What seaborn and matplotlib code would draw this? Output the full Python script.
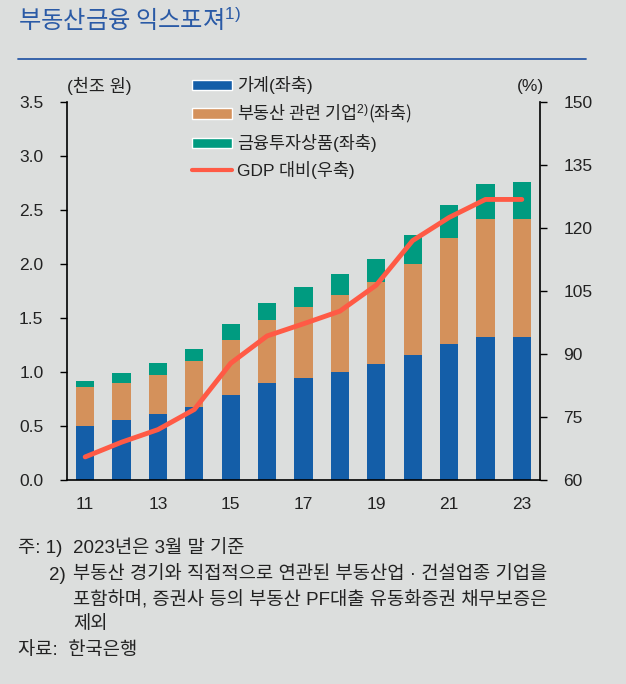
import matplotlib
matplotlib.use("Agg")
import matplotlib.pyplot as plt
import seaborn as sns
import numpy as np
import pandas as pd
from matplotlib.lines import Line2D
from matplotlib.patches import Patch

sns.set_theme(style="white")
FONT = ['Liberation Sans', 'Noto Sans CJK KR', 'DejaVu Sans']
plt.rcParams['font.family'] = FONT
plt.rcParams['mathtext.fontset'] = 'custom'
plt.rcParams['mathtext.rm'] = 'Liberation Sans'
plt.rcParams['mathtext.it'] = 'Liberation Sans'
plt.rcParams['mathtext.bf'] = 'Liberation Sans:bold'

years = ['11', '12', '13', '14', '15', '16', '17', '18', '19', '20', '21', '22', '23']
household = [0.50, 0.56, 0.61, 0.68, 0.79, 0.90, 0.94, 1.00, 1.07, 1.16, 1.26, 1.32, 1.32]
re_corp = [0.36, 0.34, 0.36, 0.42, 0.51, 0.58, 0.66, 0.71, 0.76, 0.84, 0.98, 1.10, 1.10]
fin_inv = [0.06, 0.09, 0.11, 0.11, 0.14, 0.16, 0.19, 0.20, 0.22, 0.27, 0.31, 0.32, 0.34]
gdp_ratio = [65.5, 69.0, 72.0, 76.8, 87.8, 94.3, 97.2, 100.2, 106.4, 117.0, 122.5, 126.8, 126.8]

labels = ['가계(좌축)', '부동산 관련 기업$^{2)}$(좌축)', '금융투자상품(좌축)', 'GDP 대비(우축)']
c_blue = '#145ea8'
c_orange = '#d4915b'
c_green = '#009b80'
c_red = '#ff5a45'
bg = '#dcdedd'
txt = '#222222'
KR = 'Noto Sans CJK KR'

df = pd.DataFrame({'year': years, 'household': household, 're_corp': re_corp, 'fin_inv': fin_inv})
df['s2'] = df['household'] + df['re_corp']
df['s3'] = df['s2'] + df['fin_inv']

fig = plt.figure(figsize=(6.26, 6.84), dpi=100, facecolor=bg)
W, H = 626, 684
ax = fig.add_axes([67 / W, 1 - 480 / H, (540 - 67) / W, (480 - 102) / H])
ax.set_facecolor(bg)

order = years
sns.barplot(data=df, x='year', y='s3', order=order, color=c_green, width=0.5, ax=ax,
            saturation=1, linewidth=0)
sns.barplot(data=df, x='year', y='s2', order=order, color=c_orange, width=0.5, ax=ax,
            saturation=1, linewidth=0)
sns.barplot(data=df, x='year', y='household', order=order, color=c_blue, width=0.5, ax=ax,
            saturation=1, linewidth=0)

ax.set_ylim(0, 3.5)
ax.set_xlim(-0.5, 12.5)
ax.set_yticks(np.arange(0, 3.51, 0.5))
ax.set_yticklabels([f'{v:.1f}' for v in np.arange(0, 3.51, 0.5)])
ax.set_xticks(range(0, 13, 2))
ax.set_xticklabels([years[i] for i in range(0, 13, 2)])
ax.set_xticks(np.arange(0.5, 12, 1), minor=True)
ax.tick_params(axis='x', which='major', length=0, pad=12, labelsize=12.5, colors=txt)
ax.tick_params(axis='x', which='minor', length=4, direction='in', width=1, color='black')
ax.tick_params(axis='y', which='major', length=5, direction='out', width=1, color='black',
               pad=12, labelsize=12.5, labelcolor=txt, left=True)
ax.set_xlabel('')
ax.set_ylabel('')
for s in ['left', 'bottom']:
    ax.spines[s].set_color('black')
    ax.spines[s].set_linewidth(1.2)
ax.spines['top'].set_visible(False)
ax.spines['right'].set_visible(False)

ax2 = ax.twinx()
sns.lineplot(x=np.arange(len(years)), y=gdp_ratio, color=c_red, linewidth=3.5, ax=ax2,
             solid_joinstyle='round', solid_capstyle='round')
ax2.set_ylim(60, 150)
ax2.set_yticks(range(60, 151, 15))
ax2.tick_params(axis='y', which='major', length=5, direction='out', width=1, color='black',
                pad=12, labelsize=12.5, labelcolor=txt, right=True)
for s in ['top', 'left', 'bottom']:
    ax2.spines[s].set_visible(False)
ax2.spines['right'].set_color('black')
ax2.spines['right'].set_linewidth(1.2)
ax2.set_xlim(-0.5, 12.5)

handles = [Patch(facecolor=c_blue), Patch(facecolor=c_orange), Patch(facecolor=c_green),
           Line2D([], [], color=c_red, linewidth=3)]
leg = fig.legend(handles, labels, loc='upper left', bbox_to_anchor=(192 / W, 1 - 76 / H),
                 frameon=False, fontsize=12.5, handlelength=2.3, handleheight=0.55,
                 labelspacing=0.5, handletextpad=0.3, borderaxespad=0, borderpad=0)
for t in leg.get_texts():
    t.set_color(txt)
leg.get_texts()[1].set_fontfamily(KR)

# units
fig.text(67 / W, 1 - 86 / H, '(천조 원)', fontsize=12.5, color=txt, ha='left', va='center')
fig.text(530 / W, 1 - 86 / H, '(%)', fontsize=12.5, color=txt, ha='center', va='center')

# title
fig.text(18 / W, 1 - 21 / H, '부동산금융 익스포져$^{1)}$', fontsize=17.5, color='#2a5aa6',
         ha='left', va='center', family=KR, fontweight='medium')
fig.add_artist(Line2D([18 / W, 586 / W], [1 - 59 / H, 1 - 59 / H], color='#2a5aa6', linewidth=1.3))

# footnotes
fs = 13.5
fig.text(18 / W, 1 - 548 / H, '주: 1)', fontsize=fs, color=txt, ha='left', va='center')
fig.text(73 / W, 1 - 548 / H, '2023년은 3월 말 기준', fontsize=fs, color=txt, ha='left', va='center')
fig.text(49 / W, 1 - 575 / H, '2)', fontsize=fs, color=txt, ha='left', va='center')
fig.text(73 / W, 1 - 575 / H, '부동산 경기와 직접적으로 연관된 부동산업 · 건설업종 기업을',
         fontsize=fs, color=txt, ha='left', va='center')
fig.text(73 / W, 1 - 600 / H, '포함하며, 증권사 등의 부동산 PF대출 유동화증권 채무보증은',
         fontsize=fs, color=txt, ha='left', va='center')
fig.text(73 / W, 1 - 624 / H, '제외', fontsize=fs, color=txt, ha='left', va='center')
fig.text(18 / W, 1 - 651 / H, '자료:  한국은행', fontsize=fs, color=txt, ha='left', va='center')

fig.savefig('out.png', dpi=100, facecolor=bg)
